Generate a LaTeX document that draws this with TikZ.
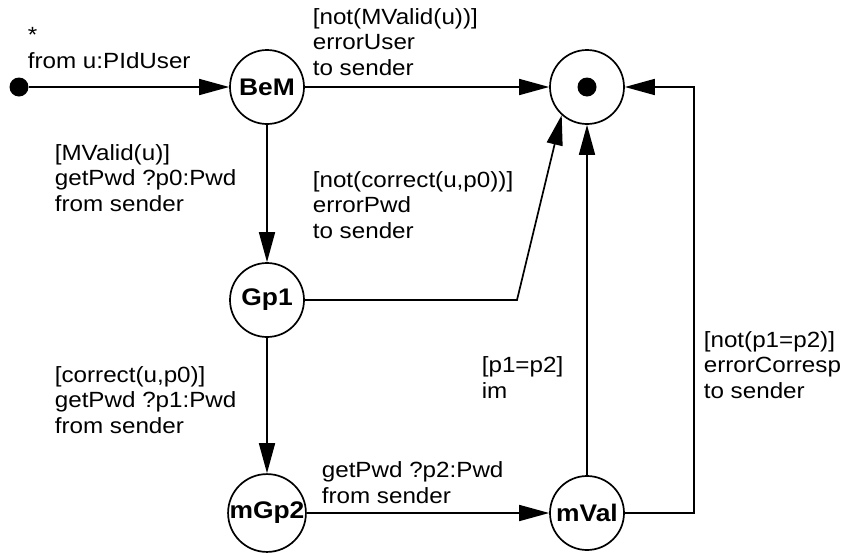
\documentclass[tikz,border=0pt]{standalone}
\usepackage{fontspec}
\setmainfont{Liberation Sans}[FakeStretch=1.1]
\usetikzlibrary{arrows.meta}

\begin{document}
\begin{tikzpicture}[x=1pt,y=-1pt,line width=1.7pt,>={Triangle[length=30pt,width=16pt]},
  stnode/.style={draw,circle,minimum size=74pt,inner sep=0pt,font=\fontsize{24}{26}\selectfont\bfseries},
  dot/.style={circle,fill,minimum size=19pt,inner sep=0pt},
  lbl/.style={anchor=base west,align=left,inner sep=0pt,font=\fontsize{22}{25.5}\selectfont}]
  \useasboundingbox (0,0) rectangle (845,552);
  % estados
  \node[dot] (ini) at (19,87) {};
  \node[stnode] (BeM) at (267,87) {BeM};
  \node[stnode] (Gp1) at (267,300) {Gp1};
  \node[stnode] (mGp2) at (267,513) {mGp2};
  \node[stnode] (mVal) at (587,513) {mVal};
  \node[stnode] (fin) at (587,87) {};
  \node[dot] (finDot) at (fin) {};
  % quiebres
  \coordinate (bend) at (517,300);
  \coordinate (corner) at (694,87);
  % transiciones
  \draw[->] (ini) -- (BeM);
  \draw[->] (BeM) -- (fin);
  \draw[->] (BeM) -- (Gp1);
  \draw[->] (Gp1.east) -- (bend) -- (fin.228);
  \draw[->] (Gp1) -- (mGp2);
  \draw[->] (mGp2) -- (mVal);
  \draw[->] (mVal) -- (fin);
  \draw[->] (mVal.east) -| (corner) -- (fin.east);
  % etiquetas (ancla en la linea de base de la ultima linea)
  \node[lbl] (lIni) at (27,68) {*\\from u:PIdUser};
  \node[lbl] (lUser) at (312,75) {[not(MValid(u))]\\errorUser\\to sender};
  \node[lbl] (lValid) at (54,211) {[MValid(u)]\\getPwd ?p0:Pwd\\from sender};
  \node[lbl] (lPwd) at (312,238) {[not(correct(u,p0))]\\errorPwd\\to sender};
  \node[lbl] (lCorr) at (54,433) {[correct(u,p0)]\\getPwd ?p1:Pwd\\from sender};
  \node[lbl] (lP2) at (321,503) {getPwd ?p2:Pwd\\from sender};
  \node[lbl] (lEq) at (481,398) {[p1=p2]\\im};
  \node[lbl] (lNeq) at (703,398) {[not(p1=p2)]\\errorCorresp\\to sender};
\end{tikzpicture}
\end{document}
